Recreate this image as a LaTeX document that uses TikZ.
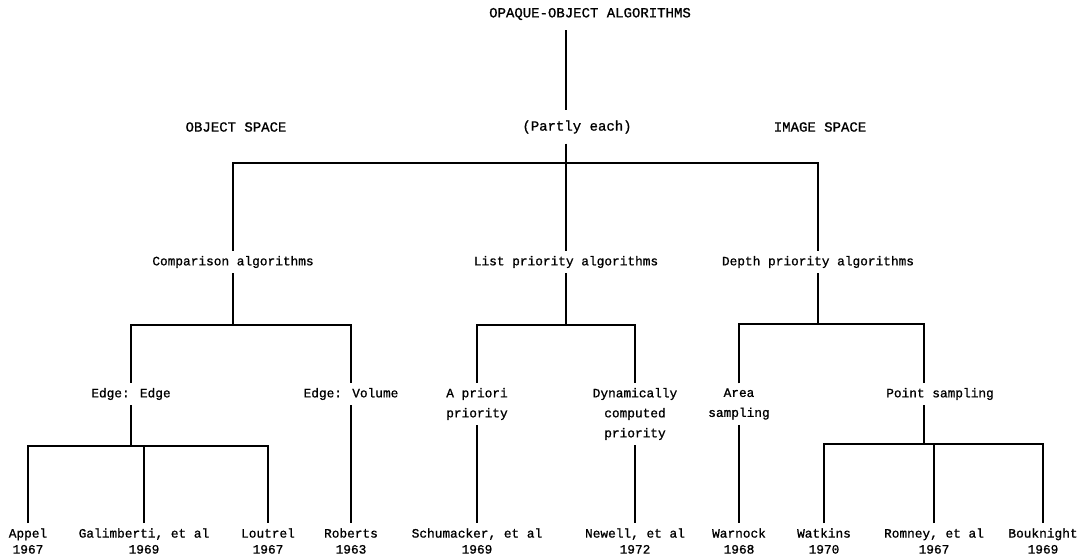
\documentclass[tikz,border=0pt]{standalone}
\usepackage{fontspec}
\newfontfamily\typefont[FakeBold=1]{Liberation Mono}

\begin{document}
\begin{tikzpicture}[x=1pt,y=-1pt,
  branch/.style={line width=1.2pt},
  head/.style={font=\typefont\fontsize{14}{17}\selectfont, inner xsep=0pt, inner ysep=10pt},
  cls/.style={font=\typefont\fontsize{12.8}{20}\selectfont, align=center, inner xsep=0pt, inner ysep=5pt},
  leaf/.style={font=\typefont\fontsize{12.8}{16}\selectfont, align=center, inner xsep=0pt, inner ysep=5pt}]
\useasboundingbox (0,0) rectangle (1089,557);
\node[head] (root) at (590,14) {OPAQUE-OBJECT ALGORITHMS};
\node[head] (objsp) at (236,127) {OBJECT SPACE};
\node[head] (partly) at (577,127) {(Partly each)};
\node[head] (imgsp) at (820,127) {IMAGE SPACE};
\coordinate (spine) at (566,163);
\draw[branch] (root.south -| spine) -- (partly.north -| spine);
\draw[branch] (partly.south -| spine) -- (spine);

\node[cls] (comp) at (233,262) {Comparison algorithms};
\node[cls] (list) at (566,262) {List priority algorithms};
\node[cls] (depth) at (818,262) {Depth priority algorithms};
\draw[branch] (comp.north) |- (spine) -| (depth.north);
\draw[branch] (spine) -- (list.north);

\node[cls] (ee) at (131,394) {Edge: Edge};
\node[cls] (ev) at (351,394) {Edge: Volume};
\node[cls] (apri) at (477,404) {A priori\\priority};
\node[cls] (dyn) at (635,414) {Dynamically\\computed\\priority};
\node[cls] (area) at (739,404) {Area\\sampling};
\node[cls] (point) at (940,394) {Point sampling};
\coordinate (compbar) at (233,325);
\coordinate (listbar) at (566,325);
\coordinate (depthbar) at (818,324);
\coordinate (ptx) at (924,0);
\draw[branch] (comp.south) -- (compbar);
\draw[branch] (ee.north) |- (compbar) -| (ev.north);
\draw[branch] (list.south) -- (listbar);
\draw[branch] (apri.north) |- (listbar) -| (dyn.north);
\draw[branch] (depth.south) -- (depthbar);
\draw[branch] (area.north) |- (depthbar) -| (point.north -| ptx);

\node[leaf] (appel) at (28,541) {Appel\\1967};
\node[leaf] (galim) at (144,541) {Galimberti, et al\\1969};
\node[leaf] (loutrel) at (268,541) {Loutrel\\1967};
\node[leaf] (roberts) at (351,541) {Roberts\\1963};
\node[leaf] (schu) at (477,541) {Schumacker, et al\\1969};
\node[leaf] (newell) at (635,541) {Newell, et al\\1972};
\node[leaf] (warnock) at (739,541) {Warnock\\1968};
\node[leaf] (watkins) at (824,541) {Watkins\\1970};
\node[leaf] (romney) at (934,541) {Romney, et al\\1967};
\node[leaf] (bouk) at (1043,541) {Bouknight\\1969};
\coordinate (eebar) at (131,446);
\coordinate (ptbar) at (924,444);
\draw[branch] (ee.south) -- (eebar);
\draw[branch] (appel.north) |- (eebar) -| (loutrel.north);
\draw[branch] (galim.north) -- (galim.north |- eebar);
\draw[branch] (ev.south) -- (roberts.north);
\draw[branch] (apri.south) -- (schu.north);
\draw[branch] (dyn.south) -- (newell.north);
\draw[branch] (area.south) -- (warnock.north);
\draw[branch] (point.south -| ptx) -- (ptbar);
\draw[branch] (watkins.north) |- (ptbar) -| (bouk.north);
\draw[branch] (romney.north) -- (romney.north |- ptbar);
\end{tikzpicture}
\end{document}
